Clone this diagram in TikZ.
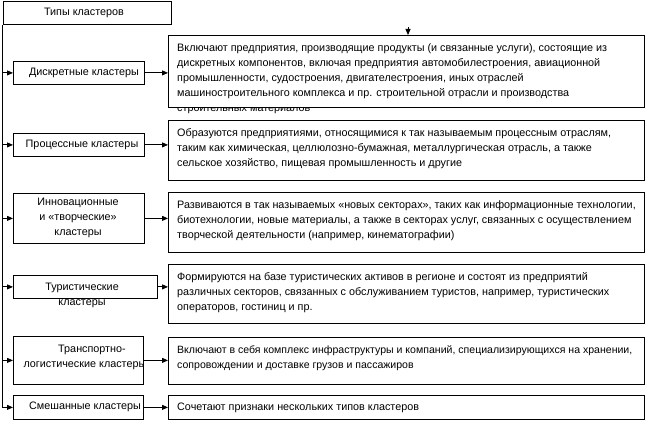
\documentclass[tikz,border=0pt]{standalone}
\usepackage{fontspec}
\setmainfont{Liberation Sans}
\usetikzlibrary{arrows.meta,calc}
\begin{document}
\begin{tikzpicture}[x=1pt,y=-1pt,
  every node/.style={font=\fontsize{10.8}{15}\selectfont},
  frame/.style={draw, line width=0.8pt, inner sep=0pt, anchor=north west},
  txt/.style={inner sep=0pt, align=left, anchor=north west},
  ctxt/.style={inner sep=0pt, align=center},
  arr/.style={line width=0.8pt, -{Triangle[length=6pt,width=5pt]}},
]
\useasboundingbox (0,0) rectangle (651,422);
% title
\node[frame, minimum width=168.5pt, minimum height=23pt] (title) at (2.5,1) {};
\node[ctxt] (titletext) at (84,13) {Типы кластеров};
% left boxes
\node[frame, minimum width=131pt, minimum height=23pt] (l1) at (13,61) {};
\node[frame, minimum width=131pt, minimum height=23pt] (l2) at (13,133) {};
\node[frame, minimum width=131pt, minimum height=50pt] (l3) at (13,193) {};
\node[frame, minimum width=144pt, minimum height=23pt] (l4) at (13,275) {};
\node[frame, minimum width=130pt, minimum height=48pt] (l5) at (13,336) {};
\node[frame, minimum width=130pt, minimum height=24pt] (l6) at (13,395) {};
% right boxes
\node[frame, minimum width=476pt, minimum height=72pt] (d1) at (168,35) {};
\node[frame, minimum width=476pt, minimum height=60pt] (d2) at (168,120) {};
\node[frame, minimum width=476pt, minimum height=60pt] (d3) at (168,192) {};
\node[frame, minimum width=476pt, minimum height=59pt] (d4) at (168,264) {};
\node[frame, minimum width=476pt, minimum height=47pt] (d5) at (168,337) {};
\node[frame, minimum width=476pt, minimum height=24pt] (d6) at (168,395) {};
% left texts
\node[ctxt] (lt1) at (84,72.5) {Дискретные кластеры};
\node[ctxt] (lt2) at (82,144.5) {Процессные кластеры};
\node[ctxt] (lt3) at (78,218) {Инновационные\\и «творческие»\\кластеры};
\node[ctxt] (lt4) at (82,295.5) {Туристические\\кластеры};
\node[ctxt] (lt5a) at (92,350) {Транспортно-};
\begin{scope}
  \clip (l5.south west) rectangle (l5.north east);
  \node[inner sep=0pt, anchor=east] (lt5b) at (146.5,366) {логистические кластеры};
\end{scope}
\node[ctxt] (lt6) at (85,407) {Смешанные кластеры};
% right texts
\begin{scope}
  \clip (0,0) rectangle (651,101) (0,107.4) rectangle (651,140);
  \node[txt] (dt1) at ($(d1.north west)+(9,8.5)$) {Включают предприятия, производящие продукты (и связанные услуги), состоящие из\\
дискретных компонентов, включая предприятия автомобилестроения, авиационной\\
промышленности, судостроения, двигателестроения, иных отраслей\\
машиностроительного комплекса и пр. строительной отрасли и производства\\
строительных материалов};
\end{scope}
\node[txt] (dt2) at ($(d2.north west)+(9,8)$) {Образуются предприятиями, относящимися к так называемым процессным отраслям,\\
таким как химическая, целлюлозно-бумажная, металлургическая отрасль, а также\\
сельское хозяйство, пищевая промышленность и другие};
\node[txt] (dt3) at ($(d3.north west)+(9,8)$) {Развиваются в так называемых «новых секторах», таких как информационные технологии,\\
биотехнологии, новые материалы, а также в секторах услуг, связанных с осуществлением\\
творческой деятельности (например, кинематографии)};
\node[txt] (dt4) at ($(d4.north west)+(9,8)$) {Формируются на базе туристических активов в регионе и состоят из предприятий\\
различных секторов, связанных с обслуживанием туристов, например, туристических\\
операторов, гостиниц и пр.};
\node[txt, font=\fontsize{10.55}{15}\selectfont] (dt5) at ($(d5.north west)+(9,8)$) {Включают в себя комплекс инфраструктуры и компаний, специализирующихся на хранении,\\
сопровождении и доставке грузов и пассажиров};
\node[txt] (dt6) at ($(d6.north west)+(9,8)$) {Сочетают признаки нескольких типов кластеров};
% trunk
\draw[arr] (title.south west) |- (l6.west);
\foreach \n in {1,...,5}{
  \coordinate (j\n) at (title.south west |- l\n.west);
  \draw[arr] (j\n) -- (l\n.west);
}
% branches
\foreach \n in {1,...,6}{
  \draw[arr] (l\n.east) -- (l\n.east -| d\n.west);
}
% small arrow
\coordinate (da) at (408,27);
\draw[arr] (da) -- (da |- d1.north);
\end{tikzpicture}
\end{document}
